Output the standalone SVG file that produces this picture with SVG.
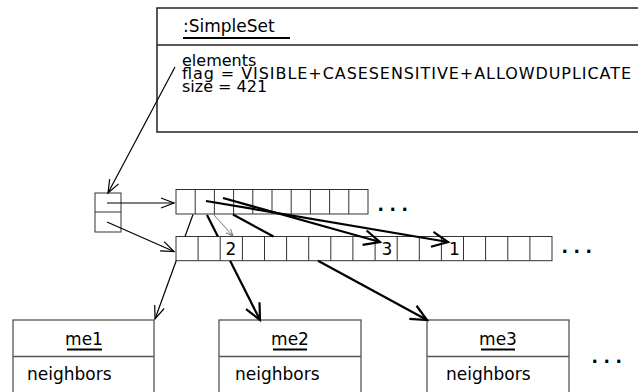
<svg xmlns="http://www.w3.org/2000/svg" width="638" height="392" viewBox="0 0 638 392">
<defs>
<style>
text { font-family: "DejaVu Sans", Verdana, sans-serif; font-size: 17px; fill: #000; }
.attr { font-size: 16px; }
.box { fill: #fff; stroke: #222; stroke-width: 1.5; }
.cell { fill: #fff; stroke: #333; stroke-width: 1; }
.mebox { fill: #fff; stroke: #555; stroke-width: 1.3; }
.thin { stroke: #000; stroke-width: 1.2; fill: none; }
.thick { stroke: #000; stroke-width: 2.2; fill: none; }
.grey { stroke: #777; stroke-width: 1; fill: none; }
.ul { stroke: #000; stroke-width: 2; }
.dots { font-weight: bold; letter-spacing: 5.5px; }
</style>
<marker id="ah" markerUnits="userSpaceOnUse" markerWidth="24" markerHeight="24" viewBox="-20 -12 24 24" refX="0" refY="0" orient="auto" overflow="visible">
<path d="M-13,-5 L0,0 L-13,5" fill="none" stroke="#000" stroke-width="1.2"/>
</marker>
<marker id="ahb" markerUnits="userSpaceOnUse" markerWidth="24" markerHeight="24" viewBox="-20 -12 24 24" refX="0" refY="0" orient="auto" overflow="visible">
<path d="M-16,-7.5 L0,0 L-16,7.5" fill="none" stroke="#000" stroke-width="2.2"/>
</marker>
<marker id="ahg" markerUnits="userSpaceOnUse" markerWidth="12" markerHeight="12" viewBox="-10 -6 12 12" refX="0" refY="0" orient="auto" overflow="visible">
<path d="M-7,-3 L0,0 L-7,3" fill="none" stroke="#777" stroke-width="1"/>
</marker>
</defs>

<g id="simpleset">
<rect class="box" x="157" y="8" width="500" height="124"/>
<line class="box" x1="157" y1="45" x2="657" y2="45"/>
<text x="183" y="32">:SimpleSet</text>
<line class="ul" x1="183" y1="38" x2="290" y2="38"/>
<text class="attr" x="182" y="66">elements</text>
<text class="attr" x="182" y="79" textLength="449" lengthAdjust="spacing">flag = VISIBLE+CASESENSITIVE+ALLOWDUPLICATE</text>
<text class="attr" x="182" y="92">size = 421</text>
</g>

<g id="ref">
<rect class="cell" x="95" y="193" width="26" height="39"/>
<line class="cell" x1="95" y1="212" x2="121" y2="212"/>
</g>

<g id="array1">
<rect class="cell" x="176" y="189.5" width="192" height="24.5"/>
<path class="cell" d="M195.2,189.5V214 M214.4,189.5V214 M233.6,189.5V214 M252.8,189.5V214 M272,189.5V214 M291.2,189.5V214 M310.4,189.5V214 M329.6,189.5V214 M348.8,189.5V214"/>
<text class="dots" x="377.5" y="211">...</text>
</g>

<g id="array2">
<rect class="cell" x="176" y="236.5" width="376" height="24.2"/>
<path class="cell" d="M198.1,236.5V260.7 M220.2,236.5V260.7 M242.4,236.5V260.7 M264.5,236.5V260.7 M286.6,236.5V260.7 M308.7,236.5V260.7 M330.8,236.5V260.7 M352.9,236.5V260.7 M375.1,236.5V260.7 M397.2,236.5V260.7 M419.3,236.5V260.7 M441.4,236.5V260.7 M463.5,236.5V260.7 M485.6,236.5V260.7 M507.8,236.5V260.7 M529.9,236.5V260.7"/>
<text x="225.5" y="255">2</text>
<text x="381.5" y="255">3</text>
<text x="449" y="255">1</text>
<text class="dots" x="561.5" y="253">...</text>
</g>

<g id="me1">
<rect class="mebox" x="13" y="320" width="141" height="90"/>
<line class="mebox" x1="13" y1="356.5" x2="154" y2="356.5"/>
<text x="84" y="345" text-anchor="middle">me1</text>
<line class="ul" x1="67" y1="349.5" x2="102" y2="349.5"/>
<text x="27" y="380">neighbors</text>
</g>

<g id="me2">
<rect class="mebox" x="219" y="320" width="142" height="90"/>
<line class="mebox" x1="219" y1="356.5" x2="361" y2="356.5"/>
<text x="290" y="345" text-anchor="middle">me2</text>
<line class="ul" x1="273" y1="349.5" x2="307" y2="349.5"/>
<text x="235" y="380">neighbors</text>
</g>

<g id="me3">
<rect class="mebox" x="427" y="320" width="142" height="90"/>
<line class="mebox" x1="427" y1="356.5" x2="569" y2="356.5"/>
<text x="498" y="345" text-anchor="middle">me3</text>
<line class="ul" x1="481" y1="349.5" x2="515" y2="349.5"/>
<text x="446" y="380">neighbors</text>
<text class="dots" x="591.5" y="363">...</text>
</g>

<g id="connectors">
<path class="thin" d="M175,67 L108,193" marker-end="url(#ah)"/>
<path class="thin" d="M107,203 L174,203" marker-end="url(#ah)"/>
<path class="thin" d="M107,222 L174,251.5" marker-end="url(#ah)"/>
<path class="thin" d="M193,214.5 L185,236.5"/>
<path class="thin" d="M176.2,260.7 L155,319" marker-end="url(#ah)"/>
<path class="thick" d="M207,215 L217.9,236.5"/>
<path class="thick" d="M230.1,260.7 L260,320" marker-end="url(#ahb)"/>
<path class="thick" d="M233,214.5 L273.5,236.5"/>
<path class="thick" d="M318,260.7 L427,320" marker-end="url(#ahb)"/>
<path class="grey" d="M214,215 L233,236" marker-end="url(#ahg)"/>
<path class="thick" d="M223,198 L380,242" marker-end="url(#ahb)"/>
<path class="thick" d="M206,201 L448,242" marker-end="url(#ahb)"/>
</g>
</svg>
